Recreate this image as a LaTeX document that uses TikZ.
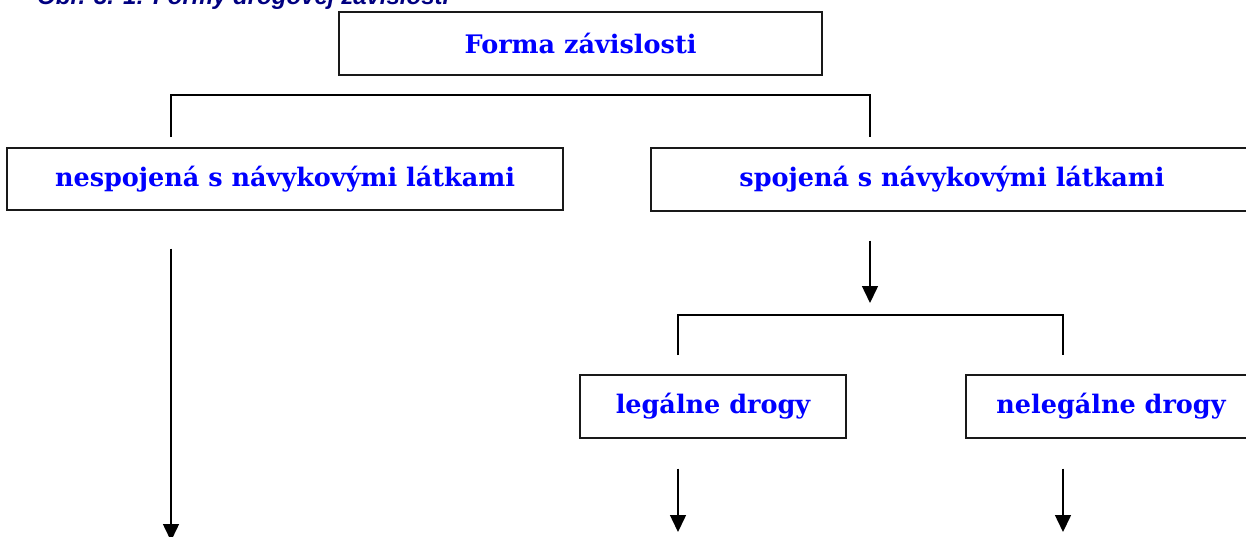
\documentclass[tikz,border=0pt]{standalone}
\usepackage{fontspec}
\setmainfont{DejaVu Serif}
\setsansfont{Liberation Sans}
\usetikzlibrary{arrows.meta}

\definecolor{capblue}{RGB}{0,0,128}

\begin{document}
\begin{tikzpicture}[x=1pt, y=-1pt,
  box/.style={draw=black!90, line width=1.4pt, fill=white, inner sep=0pt, text=blue,
    font=\bfseries\fontsize{25.5}{30}\selectfont},
  link/.style={line width=1.5pt},
  arr/.style={line width=1.5pt, -{Triangle[length=17pt,width=16pt]}}]
  \useasboundingbox (0,0) rectangle (1246,536);
  \clip (0,0) rectangle (1246,536);

  % caption, cut at the top
  \node[anchor=base west, inner sep=0pt, text=capblue,
    font=\sffamily\bfseries\itshape\fontsize{24}{28}\selectfont] (caption) at (37,4) {Obr. 3. 1: Formy drogovej závislosti};

  % boxes
  \node[box, minimum width=483pt, minimum height=63pt] (forma) at (580.5,43.5) {Forma závislosti};
  \node[box, minimum width=556pt, minimum height=62pt] (nesp) at (285,179) {nespojená s návykovými látkami};
  \node[box, minimum width=602pt, minimum height=63pt] (spoj) at (952,179.5) {spojená s návykovými látkami};
  \node[box, minimum width=266pt, minimum height=63pt] (legal) at (713,406.5) {legálne drogy};
  \node[box, minimum width=290pt, minimum height=63pt] (nelegal) at (1111,406.5) {nelegálne drogy};

  % brackets
  \coordinate (b1l) at (171,137);
  \coordinate (b1r) at (870,137);
  \coordinate (b2l) at (678,355);
  \coordinate (b2r) at (1063,355);
  \draw[link] (b1l) -- ++(0,-42) -| (b1r);
  \draw[link] (b2l) -- ++(0,-40) -| (b2r);

  % arrows
  \coordinate (e1) at (171,541);
  \coordinate (e2) at (870,303);
  \coordinate (e3) at (678,532);
  \coordinate (e4) at (1063,532);
  \draw[arr] (nesp.south -| e1) ++(0,38) -- (e1);
  \draw[arr] (spoj.south -| e2) ++(0,29) -- (e2);
  \draw[arr] (legal.south -| e3) ++(0,30) -- (e3);
  \draw[arr] (nelegal.south -| e4) ++(0,30) -- (e4);
\end{tikzpicture}
\end{document}
